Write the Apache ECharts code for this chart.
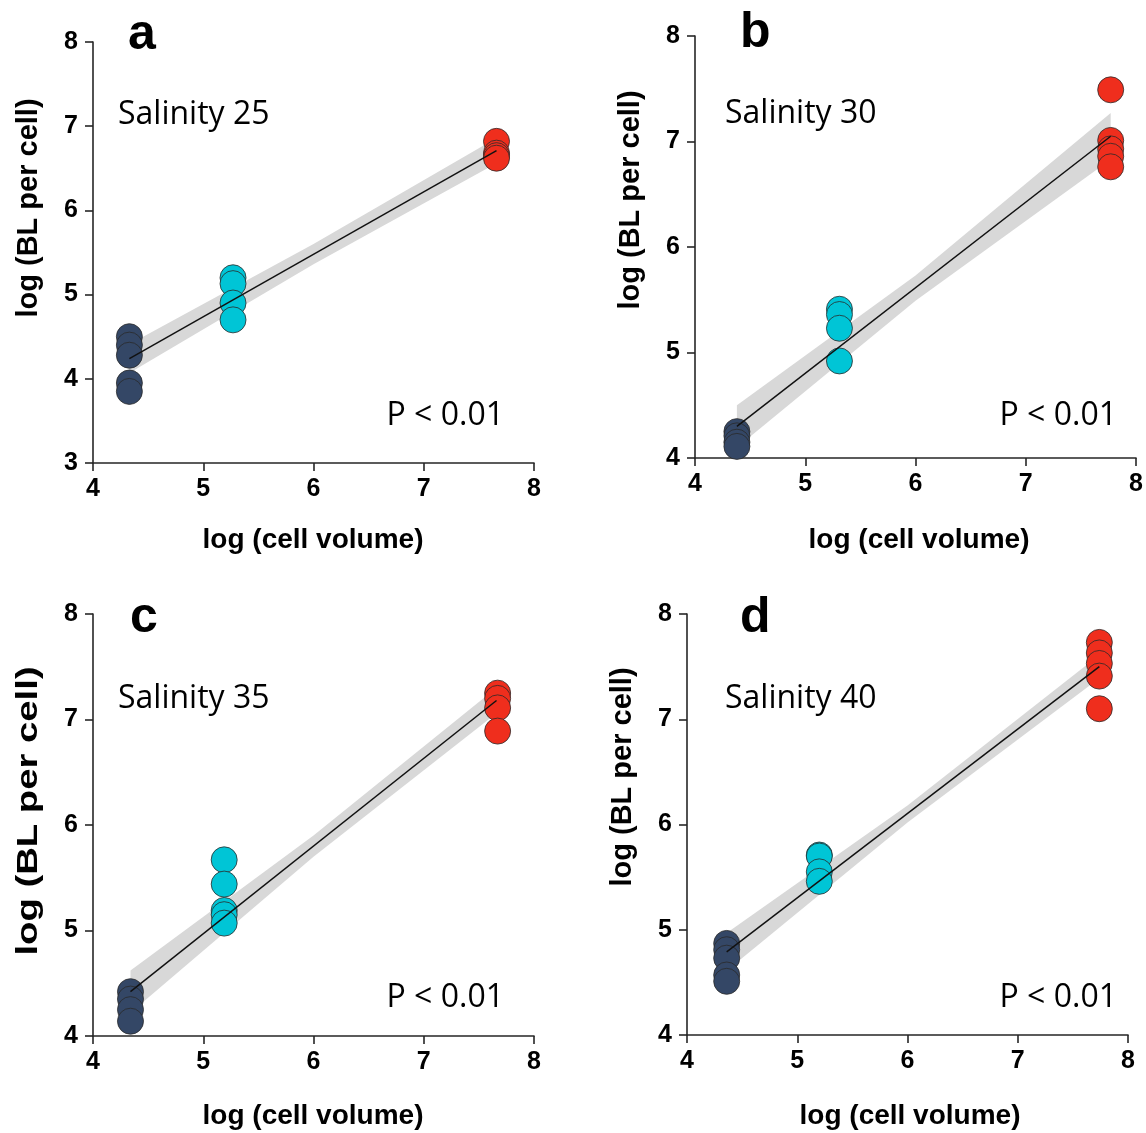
<!DOCTYPE html>
<html>
<head>
<meta charset="utf-8">
<style>
  html, body { margin: 0; padding: 0; background: #fff; }
  #chart { width: 1146px; height: 1133px; }
</style>
<script src="https://cdn.jsdelivr.net/npm/echarts@6.0.0/dist/echarts.min.js"></script>
</head>
<body>
<div id="chart"></div>
<script>
// log(cell volume) of the three size classes, per panel
const classX_a = [4.33, 5.27, 7.66];
const classX_b = [4.38, 5.31, 7.77];
const classX_c = [4.34, 5.19, 7.67];
const classX_d = [4.36, 5.20, 7.74];

// log(BL per cell) replicates: small (navy), medium (cyan), large (red)
const small_a = [4.50, 4.40, 4.28, 3.95, 3.85];
const medium_a = [5.20, 5.13, 4.90, 4.70];
const large_a = [6.82, 6.68, 6.65, 6.62];

const small_b = [4.25, 4.21, 4.15, 4.11];
const medium_b = [5.41, 5.36, 5.23, 4.92];
const large_b = [7.49, 7.01, 6.93, 6.86, 6.76];

const small_c = [4.42, 4.35, 4.25, 4.14];
const medium_c = [5.67, 5.44, 5.19, 5.15, 5.07];
const large_c = [7.25, 7.20, 7.11, 6.89];

const small_d = [4.87, 4.81, 4.73, 4.57, 4.51];
const medium_d = [5.71, 5.70, 5.55, 5.46];
const large_d = [7.73, 7.63, 7.53, 7.41, 7.10];

// fitted line end points and the grey confidence band
const fitX_a = [4.33, 7.66], fitY_a = [4.24, 6.71];
const fitX_b = [4.38, 7.77], fitY_b = [4.30, 7.05];
const fitX_c = [4.34, 7.66], fitY_c = [4.42, 7.18];
const fitX_d = [4.36, 7.74], fitY_d = [4.79, 7.50];

const bandX_a = [4.33, 6.0, 7.66], bandLo_a = [4.07, 5.36, 6.56], bandHi_a = [4.41, 5.60, 6.86];
const bandX_b = [4.38, 6.0, 7.77], bandLo_b = [4.10, 5.49, 6.83], bandHi_b = [4.50, 5.73, 7.27];
const bandX_c = [4.34, 6.0, 7.66], bandLo_c = [4.22, 5.70, 7.06], bandHi_c = [4.62, 5.90, 7.30];
const bandX_d = [4.36, 6.0, 7.74], bandLo_d = [4.61, 6.02, 7.39], bandHi_d = [4.97, 6.18, 7.61];

const yMin = [3, 4, 4, 4];
const letters = ['a', 'b', 'c', 'd'];
const salinity = ['Salinity 25', 'Salinity 30', 'Salinity 35', 'Salinity 40'];
const pText = 'P < 0.01';

const panels = [
  { classX: classX_a, groups: [small_a, medium_a, large_a], fitX: fitX_a, fitY: fitY_a, bandX: bandX_a, lo: bandLo_a, hi: bandHi_a },
  { classX: classX_b, groups: [small_b, medium_b, large_b], fitX: fitX_b, fitY: fitY_b, bandX: bandX_b, lo: bandLo_b, hi: bandHi_b },
  { classX: classX_c, groups: [small_c, medium_c, large_c], fitX: fitX_c, fitY: fitY_c, bandX: bandX_c, lo: bandLo_c, hi: bandHi_c },
  { classX: classX_d, groups: [small_d, medium_d, large_d], fitX: fitX_d, fitY: fitY_d, bandX: bandX_d, lo: bandLo_d, hi: bandHi_d }
];

const grids = [
  { left: 93, top: 42, width: 441, height: 421 },
  { left: 695, top: 36, width: 442, height: 422 },
  { left: 93, top: 614, width: 441, height: 422 },
  { left: 687, top: 614, width: 441, height: 421 }
];

const groupColors = ['#344766', '#00c5d6', '#ef2e1d'];
const axisColor = '#262626';

const xAxes = grids.map((g, i) => ({
  type: 'value', gridIndex: i, min: 4, max: 8, interval: 1,
  axisLine: { show: true, onZero: false, lineStyle: { color: axisColor, width: 1.6 } },
  axisTick: { show: true, length: 8, lineStyle: { color: axisColor, width: 1.6 } },
  axisLabel: { margin: 14, fontFamily: 'Liberation Sans', fontWeight: 'bold', fontSize: 25, color: '#000' },
  splitLine: { show: false }
}));

const yAxes = grids.map((g, i) => ({
  type: 'value', gridIndex: i, min: yMin[i], max: 8, interval: 1,
  axisLine: { show: true, onZero: false, lineStyle: { color: axisColor, width: 1.6 } },
  axisTick: { show: true, length: 8, lineStyle: { color: axisColor, width: 1.6 } },
  axisLabel: { margin: 15, fontFamily: 'Liberation Sans', fontWeight: 'bold', fontSize: 25, color: '#000' },
  splitLine: { show: false }
}));

function bandSeries(i, p) {
  return {
    type: 'custom', xAxisIndex: i, yAxisIndex: i, z: 1, silent: true,
    data: p.bandX.map((x, k) => [x, p.lo[k], p.hi[k]]),
    encode: { x: 0, y: [1, 2] },
    renderItem(params, api) {
      if (params.dataIndex !== 0) return null;
      const top = p.bandX.map((x, k) => api.coord([x, p.hi[k]]));
      const bot = p.bandX.map((x, k) => api.coord([x, p.lo[k]])).reverse();
      return { type: 'polygon', shape: { points: top.concat(bot) }, style: { fill: '#d8d8d8' } };
    }
  };
}

const series = [];
panels.forEach((p, i) => {
  series.push(bandSeries(i, p));
  p.groups.forEach((vals, gi) => {
    series.push({
      type: 'scatter', xAxisIndex: i, yAxisIndex: i, z: 2,
      symbol: 'circle', symbolSize: 26,
      itemStyle: { color: groupColors[gi], borderColor: '#2a2a2a', borderWidth: 0.8, opacity: 1 },
      data: vals.map(v => [p.classX[gi], v])
    });
  });
  series.push({
    type: 'line', xAxisIndex: i, yAxisIndex: i, z: 3,
    symbol: 'none', silent: true,
    lineStyle: { color: '#111', width: 1.5 },
    data: p.fitX.map((x, k) => [x, p.fitY[k]])
  });
});

// annotation positions (pixels)
const letterPos = [[128, 35], [740, 33], [130, 618], [740, 618]];
const salPos = [[118, 115], [725, 114], [118, 699], [725, 699]];
const pPos = [[504, 416], [1117, 416], [504, 998], [1117, 998]];
const xTitlePos = [[313, 540], [919, 540], [313, 1116], [910, 1116]];
const yTitlePos = [[29, 208], [631, 200], [29, 811], [623, 777]];
const yTitleStretch = [1, 1, 1.32, 1];

const graphic = [];
for (let i = 0; i < 4; i++) {
  graphic.push({ type: 'text', x: letterPos[i][0], y: letterPos[i][1], silent: true,
    style: { text: letters[i], font: 'bold 50px "Liberation Sans"', fill: '#000', textAlign: 'left', textVerticalAlign: 'middle' } });
  graphic.push({ type: 'text', x: salPos[i][0], y: salPos[i][1], silent: true,
    style: { text: salinity[i], font: '32px "Open Sans"', fill: '#000', textAlign: 'left', textVerticalAlign: 'middle' } });
  graphic.push({ type: 'text', x: pPos[i][0], y: pPos[i][1], silent: true,
    style: { text: pText, font: '32px "Open Sans"', fill: '#000', textAlign: 'right', textVerticalAlign: 'middle' } });
  graphic.push({ type: 'text', x: xTitlePos[i][0], y: xTitlePos[i][1], silent: true,
    style: { text: 'log (cell volume)', font: 'bold 28px "Liberation Sans"', fill: '#000', textAlign: 'center', textVerticalAlign: 'middle' } });
  graphic.push({ type: 'text', x: yTitlePos[i][0], y: yTitlePos[i][1], rotation: Math.PI / 2, scaleX: yTitleStretch[i], silent: true,
    style: { text: 'log (BL per cell)', font: 'bold 29px "Liberation Sans"', fill: '#000', textAlign: 'center', textVerticalAlign: 'middle' } });
}

const chart = echarts.init(document.getElementById('chart'), null, { renderer: 'canvas' });
chart.setOption({
  animation: false,
  backgroundColor: '#fff',
  grid: grids,
  xAxis: xAxes,
  yAxis: yAxes,
  series: series,
  graphic: graphic
});
</script>
</body>
</html>
